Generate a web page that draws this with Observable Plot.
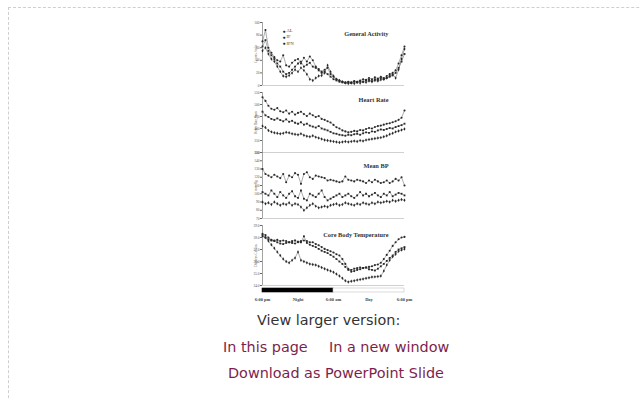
<!DOCTYPE html>
<html>
<head>
<meta charset="utf-8">
<script src="https://cdn.jsdelivr.net/npm/d3@7"></script>
<script src="https://cdn.jsdelivr.net/npm/@observablehq/plot@0.6"></script>
<style>
  html, body { margin: 0; padding: 0; background: #fff; width: 640px; height: 399px; overflow: hidden; }
  #frame { position: absolute; left: 8px; top: 7px; width: 700px; height: 420px; border-top: 1px dashed #cfcfcf; border-left: 1px dashed #cfcfcf; }
  .panel { position: absolute; left: 253px; }
  .txt { position: absolute; font-family: "DejaVu Sans", sans-serif; font-size: 14.4px; white-space: nowrap; line-height: 16px; }
  .dark { color: #333; }
  .lnk { color: #7d1f4e; }
</style>
</head>
<body>
<div id="frame"></div>
<div id="p1" class="panel" style="top:17px"></div>
<div id="p2" class="panel" style="top:88px"></div>
<div id="p3" class="panel" style="top:150px"></div>
<div id="p4" class="panel" style="top:221px"></div>
<div id="p5" class="panel" style="top:285px"></div>
<div class="txt dark" style="left:257px; top:312px">View larger version:</div>
<div class="txt lnk" style="left:223px; top:339px">In this page</div>
<div class="txt lnk" style="left:329px; top:339px">In a new window</div>
<div class="txt lnk" style="left:228px; top:365px">Download as PowerPoint Slide</div>
<script>
// ---- data ----
const groups = ["AL", "IF", "IFN"];
const hours = d3.range(0, 24.5, 0.5); // sampling times, hours after 6:00 pm

const activityAL  = [70,88,60,52,45,40,38,48,32,30,36,40,42,35,44,38,46,40,30,26,22,25,28,18,14,10,8,6,5,6,5,7,6,8,10,9,12,10,13,11,14,12,15,18,20,24,35,48,62];
const activityIF  = [62,72,55,48,42,35,30,22,18,20,25,30,35,38,30,33,36,30,28,24,20,22,18,14,10,8,6,5,4,5,4,6,5,7,6,8,9,7,10,9,12,10,12,14,16,20,28,38,50];
const activityIFN = [55,60,50,42,38,30,22,15,14,16,20,25,22,28,24,18,10,8,12,15,16,20,32,22,15,10,8,6,4,3,4,3,5,4,6,5,7,6,8,7,9,10,12,15,18,12,25,42,58];

const hrAL  = [530,515,495,482,478,485,472,468,475,462,470,458,465,470,460,452,462,455,448,452,440,436,430,425,415,405,400,392,388,384,386,390,388,394,392,398,402,400,406,410,412,416,420,422,426,430,436,445,475];
const hrIF  = [470,455,448,440,436,442,435,430,438,428,432,424,420,426,416,420,412,408,404,410,400,396,392,386,380,378,374,372,370,374,372,376,378,374,380,384,382,388,386,392,396,394,398,402,400,406,410,414,420];
const hrIFN = [410,404,392,386,382,380,378,380,384,382,378,376,374,378,372,368,366,370,364,360,356,352,350,348,346,344,342,344,346,344,346,348,346,350,348,352,354,356,358,360,362,366,370,376,380,386,390,394,398];

const bpAL  = [130,124,122,120,123,121,119,124,114,122,120,125,123,112,124,126,120,118,122,121,120,119,116,117,116,115,114,115,121,117,116,115,117,116,115,113,116,114,117,115,113,114,116,113,115,118,116,120,110];
const bpIF  = [102,100,98,104,100,96,102,98,95,100,103,97,95,104,94,92,100,98,96,100,104,96,92,94,96,98,100,96,98,100,97,95,98,102,98,100,97,99,101,98,96,100,98,102,97,99,101,100,98];
const bpIFN = [90,88,89,87,90,88,86,88,87,89,86,88,87,84,80,83,86,88,85,83,84,85,84,86,87,88,86,87,89,88,87,86,88,87,89,88,87,89,88,90,89,90,91,90,92,91,92,93,92];

const tempAL  = [38.3,38.2,38.0,37.8,37.75,37.8,37.7,37.75,37.7,37.6,37.55,37.5,37.6,37.7,37.75,37.7,37.6,37.6,37.45,37.35,37.2,37.05,36.95,36.85,36.75,36.6,36.5,36.2,35.8,35.4,35.15,35.2,35.3,35.35,35.45,35.5,35.55,35.6,35.7,35.75,35.9,36.2,36.55,36.9,37.3,37.6,37.85,38.0,38.05];
const tempIF  = [38.1,38.0,37.85,37.75,37.7,37.6,37.5,37.45,37.55,37.6,37.7,37.75,37.65,37.6,38.1,37.55,37.4,37.3,37.2,37.05,36.9,36.8,36.7,36.55,36.4,36.2,36.0,35.8,35.55,35.3,35.3,35.4,35.45,35.5,35.45,35.5,35.35,35.3,35.25,35.4,35.6,35.8,36.05,36.3,36.5,36.8,37.0,37.1,37.2];
const tempIFN = [38.2,38.0,37.7,37.4,37.1,36.8,36.5,36.2,36.0,35.9,36.1,36.3,36.8,36.1,36.0,35.9,35.8,35.75,35.7,35.6,35.5,35.4,35.3,35.2,35.1,34.95,34.8,34.6,34.4,34.3,34.35,34.4,34.45,34.5,34.55,34.6,34.65,34.7,34.72,34.75,34.8,35.2,35.7,36.1,36.4,36.6,36.85,36.95,37.05];

const panelTitles = ["General Activity", "Heart Rate", "Mean BP", "Core Body Temperature"];
const yLabels = ["Counts / min", "Heart Rate, bpm", "mm Hg", "Degrees Celsius"];
const yTicks = [[0,20,40,60,80,100],[300,350,400,450,500,550],[70,80,90,100,110,120,130,140,150],[34,35,36,37,38,39]];
const timeTickHours = [0, 6, 12, 18, 24];
const timeTickLabels = ["6:00 pm", "Night", "6:00 am", "Day", "6:00 pm"];
const periodNames = ["Night", "Day"];
const periodStart = [0, 12];
const periodEnd = [12, 24];

// ---- helpers ----
const symbols = ["circle", "square", "diamond"];
const W = 160, ML = 9, MR = 9;

function toRows(seriesList) {
  const rows = [];
  seriesList.forEach((vals, i) => vals.forEach((v, j) => rows.push({t: hours[j], v, g: groups[i]})));
  return rows;
}

function panel(el, {series, ticks, title, ylabel, height, mt, mb, titleDy, legend}) {
  const rows = toRows(series);
  const lo = ticks[0], hi = ticks[ticks.length - 1];
  const marks = [
    Plot.ruleY([lo], {stroke: "#c4c4c4", strokeWidth: 0.8}),
    Plot.ruleX([0], {stroke: "#666", strokeWidth: 0.6}),
    Plot.axisY({ticks, tickSize: 2, tickPadding: 1, fontSize: 3.5, stroke: "#666", fill: "#555",
      label: ylabel, labelAnchor: "center", labelOffset: 8, labelArrow: "none"}),
    Plot.line(rows, {x: "t", y: "v", z: "g", stroke: "#666", strokeWidth: 0.55}),
    Plot.dot(rows, {x: "t", y: "v", symbol: "g", fill: "#2a2a2a", r: 1.05}),
    Plot.text([title], {frameAnchor: "top-right", textAnchor: "end", dx: -16, dy: titleDy,
      fontSize: 6.3, fontWeight: "bold", fill: "#333"})
  ];
  if (legend) {
    groups.forEach((g, i) => {
      marks.push(Plot.text(["●"], {frameAnchor: "top-left", dx: 20, dy: 6.5 + i * 6.2, fontSize: 5, fill: "#222"}));
      marks.push(Plot.text([g], {frameAnchor: "top-left", textAnchor: "start", dx: 24, dy: 6.5 + i * 6.2, fontSize: 4.5, fill: "#444"}));
    });
  }
  const svg = Plot.plot({
    width: W, height, marginLeft: ML, marginRight: MR, marginTop: mt, marginBottom: mb,
    style: {background: "transparent", overflow: "visible", fontFamily: "Liberation Serif"},
    x: {domain: [0, 24], axis: null},
    y: {domain: [lo, hi]},
    symbol: {domain: groups, range: symbols},
    marks
  });
  document.getElementById(el).append(svg);
}

panel("p1", {series: [activityAL, activityIF, activityIFN], ticks: yTicks[0], title: panelTitles[0], ylabel: yLabels[0], height: 70, mt: 5, mb: 2, titleDy: 9, legend: true});
panel("p2", {series: [hrAL, hrIF, hrIFN], ticks: yTicks[1], title: panelTitles[1], ylabel: yLabels[1], height: 66, mt: 4, mb: 2, titleDy: 5});
panel("p3", {series: [bpAL, bpIF, bpIFN], ticks: yTicks[2], title: panelTitles[2], ylabel: yLabels[2], height: 70, mt: 2, mb: 2, titleDy: 11});
panel("p4", {series: [tempAL, tempIF, tempIFN], ticks: yTicks[3], title: panelTitles[3], ylabel: yLabels[3], height: 66, mt: 4, mb: 2, titleDy: 7});

// time bar + labels
const periods = periodNames.map((p, i) => ({p, s: periodStart[i], e: periodEnd[i]}));
const timeTicks = timeTickHours.map((h, i) => ({h, label: timeTickLabels[i]}));
const bar = Plot.plot({
  width: W, height: 18, marginLeft: ML, marginRight: MR, marginTop: 3, marginBottom: 11,
  style: {background: "transparent", overflow: "visible", fontFamily: "Liberation Serif"},
  x: {domain: [0, 24], axis: null},
  y: {axis: null},
  marks: [
    Plot.rect(periods, {x1: "s", x2: "e", fill: d => d.p === "Night" ? "#000" : "#fff", stroke: d => d.p === "Night" ? "#000" : "#c4c4c4", strokeWidth: 0.6}),
    Plot.text(timeTicks, {x: "h", text: "label", frameAnchor: "bottom", dy: 8, fontSize: 4.5, fontWeight: "bold", fill: "#444"})
  ]
});
document.getElementById("p5").append(bar);
</script>
</body>
</html>
